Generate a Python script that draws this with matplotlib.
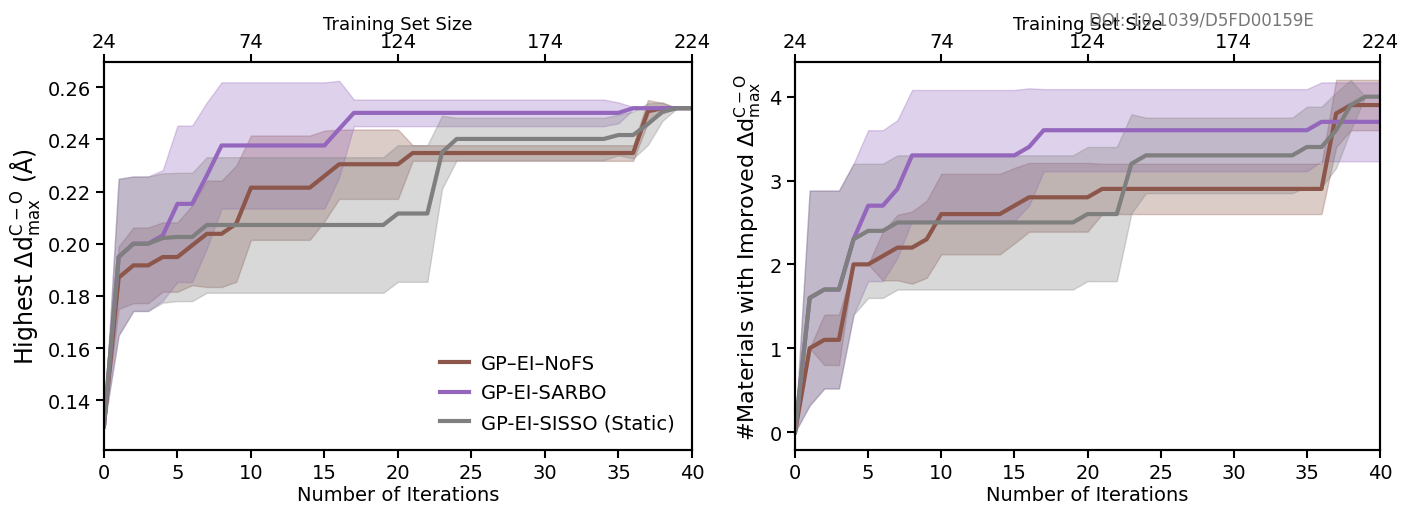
import numpy as np
import matplotlib.pyplot as plt

iterations = np.arange(41)

# left panel: highest d(C-O) found so far (mean and std over runs)
nofs_best = [0.130, 0.187, 0.1917, 0.1917, 0.1949, 0.1949, 0.1994, 0.2038, 0.2038, 0.2077,
             0.2215, 0.2215, 0.2215, 0.2215, 0.2215, 0.226, 0.2305, 0.2305, 0.2305, 0.2305,
             0.2305, 0.2348, 0.2348, 0.2348, 0.2348, 0.2348, 0.2348, 0.2348, 0.2348, 0.2348,
             0.2348, 0.2348, 0.2348, 0.2348, 0.2348, 0.2348, 0.2348, 0.2508, 0.252, 0.252, 0.252]
nofs_best_std = [0, 0.012, 0.0145, 0.0145, 0.0133, 0.0133, 0.0153, 0.0204, 0.0204, 0.0223,
                 0.020, 0.020, 0.020, 0.020, 0.020, 0.0174, 0.0133, 0.0133, 0.0133, 0.0133,
                 0.0133, 0.003, 0.003, 0.003, 0.003, 0.003, 0.003, 0.003, 0.003, 0.003,
                 0.003, 0.003, 0.003, 0.003, 0.003, 0.003, 0.003, 0.0043, 0.002, 0, 0]

sarbo_best = [0.130, 0.1949, 0.200, 0.200, 0.2032, 0.2153, 0.2153, 0.2262, 0.2377, 0.2377,
              0.2377, 0.2377, 0.2377, 0.2377, 0.2377, 0.2377, 0.244, 0.2502, 0.2502, 0.2502,
              0.2502, 0.2502, 0.2502, 0.2502, 0.2502, 0.2502, 0.2502, 0.2502, 0.2502, 0.2502,
              0.2502, 0.2502, 0.2502, 0.2502, 0.2502, 0.2502, 0.252, 0.252, 0.252, 0.252, 0.252]
sarbo_best_std = [0, 0.030, 0.0258, 0.0258, 0.025, 0.030, 0.030, 0.028, 0.0242, 0.0242,
                  0.0242, 0.0242, 0.0242, 0.0242, 0.0242, 0.0242, 0.0185, 0.0051, 0.0051, 0.0051,
                  0.0051, 0.0051, 0.0051, 0.0051, 0.0051, 0.0051, 0.0051, 0.0051, 0.0051, 0.0051,
                  0.0051, 0.0051, 0.0051, 0.0051, 0.0051, 0.004, 0.0005, 0, 0, 0, 0]

sisso_best = [0.130, 0.1949, 0.200, 0.200, 0.2022, 0.2026, 0.2026, 0.2072, 0.2072, 0.2072,
              0.2072, 0.2072, 0.2072, 0.2072, 0.2072, 0.2072, 0.2072, 0.2072, 0.2072, 0.2072,
              0.2116, 0.2116, 0.2116, 0.2351, 0.2402, 0.2402, 0.2402, 0.2402, 0.2402, 0.2402,
              0.2402, 0.2402, 0.2402, 0.2402, 0.2402, 0.2417, 0.2417, 0.2459, 0.2507, 0.252, 0.252]
sisso_best_std = [0, 0.030, 0.0258, 0.0258, 0.0248, 0.0246, 0.0246, 0.026, 0.026, 0.026,
                  0.026, 0.026, 0.026, 0.026, 0.026, 0.026, 0.026, 0.026, 0.026, 0.026,
                  0.0262, 0.0262, 0.0262, 0.014, 0.0081, 0.0081, 0.0081, 0.0081, 0.0081, 0.0081,
                  0.0081, 0.0081, 0.0081, 0.0081, 0.0081, 0.0078, 0.009, 0.008, 0.0035, 0, 0]

# right panel: number of materials with improved d(C-O)
nofs_count = [0, 1.0, 1.1, 1.1, 2.0, 2.0, 2.1, 2.2, 2.2, 2.3,
              2.6, 2.6, 2.6, 2.6, 2.6, 2.7, 2.8, 2.8, 2.8, 2.8,
              2.8, 2.9, 2.9, 2.9, 2.9, 2.9, 2.9, 2.9, 2.9, 2.9,
              2.9, 2.9, 2.9, 2.9, 2.9, 2.9, 2.9, 3.8, 3.9, 3.9, 3.9]
nofs_count_std = [0, 0, 0.3, 0.3, 0, 0, 0.29, 0.39, 0.43, 0.46,
                  0.48, 0.48, 0.48, 0.48, 0.48, 0.45, 0.41, 0.41, 0.41, 0.41,
                  0.41, 0.3, 0.3, 0.3, 0.3, 0.3, 0.3, 0.3, 0.3, 0.3,
                  0.3, 0.3, 0.3, 0.3, 0.3, 0.3, 0.3, 0.4, 0.3, 0.3, 0.3]

sarbo_count = [0, 1.6, 1.7, 1.7, 2.3, 2.7, 2.7, 2.9, 3.3, 3.3,
               3.3, 3.3, 3.3, 3.3, 3.3, 3.3, 3.4, 3.6, 3.6, 3.6,
               3.6, 3.6, 3.6, 3.6, 3.6, 3.6, 3.6, 3.6, 3.6, 3.6,
               3.6, 3.6, 3.6, 3.6, 3.6, 3.6, 3.7, 3.7, 3.7, 3.7, 3.7]
sarbo_count_std = [0, 1.28, 1.18, 1.18, 0.9, 0.9, 0.9, 0.82, 0.78, 0.78,
                   0.78, 0.78, 0.78, 0.78, 0.78, 0.78, 0.7, 0.49, 0.49, 0.49,
                   0.49, 0.49, 0.49, 0.49, 0.49, 0.49, 0.49, 0.49, 0.49, 0.49,
                   0.49, 0.49, 0.49, 0.49, 0.49, 0.49, 0.47, 0.47, 0.47, 0.47, 0.47]

sisso_count = [0, 1.6, 1.7, 1.7, 2.3, 2.4, 2.4, 2.5, 2.5, 2.5,
               2.5, 2.5, 2.5, 2.5, 2.5, 2.5, 2.5, 2.5, 2.5, 2.5,
               2.6, 2.6, 2.6, 3.2, 3.3, 3.3, 3.3, 3.3, 3.3, 3.3,
               3.3, 3.3, 3.3, 3.3, 3.3, 3.4, 3.4, 3.6, 3.9, 4.0, 4.0]
sisso_count_std = [0, 1.28, 1.18, 1.18, 0.9, 0.8, 0.8, 0.8, 0.8, 0.8,
                   0.8, 0.8, 0.8, 0.8, 0.8, 0.8, 0.8, 0.8, 0.8, 0.8,
                   0.8, 0.8, 0.8, 0.59, 0.45, 0.45, 0.45, 0.45, 0.45, 0.45,
                   0.45, 0.45, 0.45, 0.45, 0.45, 0.48, 0.48, 0.45, 0.3, 0, 0]

labels = ["GP\u2013EI\u2013NoFS", "GP-EI-SARBO", "GP-EI-SISSO (Static)"]
colors = ["#8c564b", "#9467bd", "#7f7f7f"]
top_ticks = [24, 74, 124, 174, 224]

plt.rcParams['font.family'] = ['DejaVu Sans']

fig = plt.figure(figsize=(14.01, 5.06), dpi=100)
ax1 = fig.add_axes([0.0742, 0.1093, 0.4197, 0.7656])
ax2 = fig.add_axes([0.5675, 0.1093, 0.4175, 0.7656])


def draw(ax, series):
    for (mean, std), label, color in zip(series, labels, colors):
        mean = np.array(mean)
        std = np.array(std)
        ax.fill_between(iterations, mean - std, mean + std, color=color, alpha=0.3, linewidth=1)
        ax.plot(iterations, mean, color=color, linewidth=3, label=label)
    ax.set_xlim(0, 40)
    ax.set_xticks(range(0, 41, 5))
    ax.set_xlabel("Number of Iterations", fontsize=14, labelpad=2)
    ax.tick_params(labelsize=14, width=1.5, length=6)
    for s in ax.spines.values():
        s.set_linewidth(1.5)
    top = ax.twiny()
    top.set_xlim(0, 40)
    top.set_xticks([(t - 24) / 5 for t in top_ticks])
    top.set_xticklabels([str(t) for t in top_ticks])
    top.tick_params(labelsize=14, width=1.5, length=6, pad=2)
    top.set_xlabel("Training Set Size", fontsize=13, labelpad=2)
    for s in top.spines.values():
        s.set_linewidth(1.5)


draw(ax1, [(nofs_best, nofs_best_std), (sarbo_best, sarbo_best_std), (sisso_best, sisso_best_std)])
ax1.set_ylim(0.121, 0.2696)
ax1.set_yticks([0.14, 0.16, 0.18, 0.20, 0.22, 0.24, 0.26])
ax1.set_yticklabels(["0.14", "0.16", "0.18", "0.20", "0.22", "0.24", "0.26"])
ax1.set_ylabel(r"Highest $\Delta \mathrm{d}^{\mathrm{C-O}}_{\mathrm{max}}$ (Å)", fontsize=17, labelpad=4)
ax1.legend(loc='lower right', frameon=False, fontsize=14, handlelength=1.5,
           handletextpad=0.6, labelspacing=0.55, borderaxespad=0.5)

draw(ax2, [(nofs_count, nofs_count_std), (sarbo_count, sarbo_count_std), (sisso_count, sisso_count_std)])
ax2.set_ylim(-0.21, 4.41)
ax2.set_yticks([0, 1, 2, 3, 4])
ax2.set_ylabel(r"#Materials with Improved $\Delta \mathrm{d}^{\mathrm{C-O}}_{\mathrm{max}}$", fontsize=16, labelpad=4)

fig.text(0.938, 0.978, "DOI: 10.1039/D5FD00159E", fontsize=12, color="#777777", ha="right", va="top")

fig.savefig("out.png", dpi=100)
